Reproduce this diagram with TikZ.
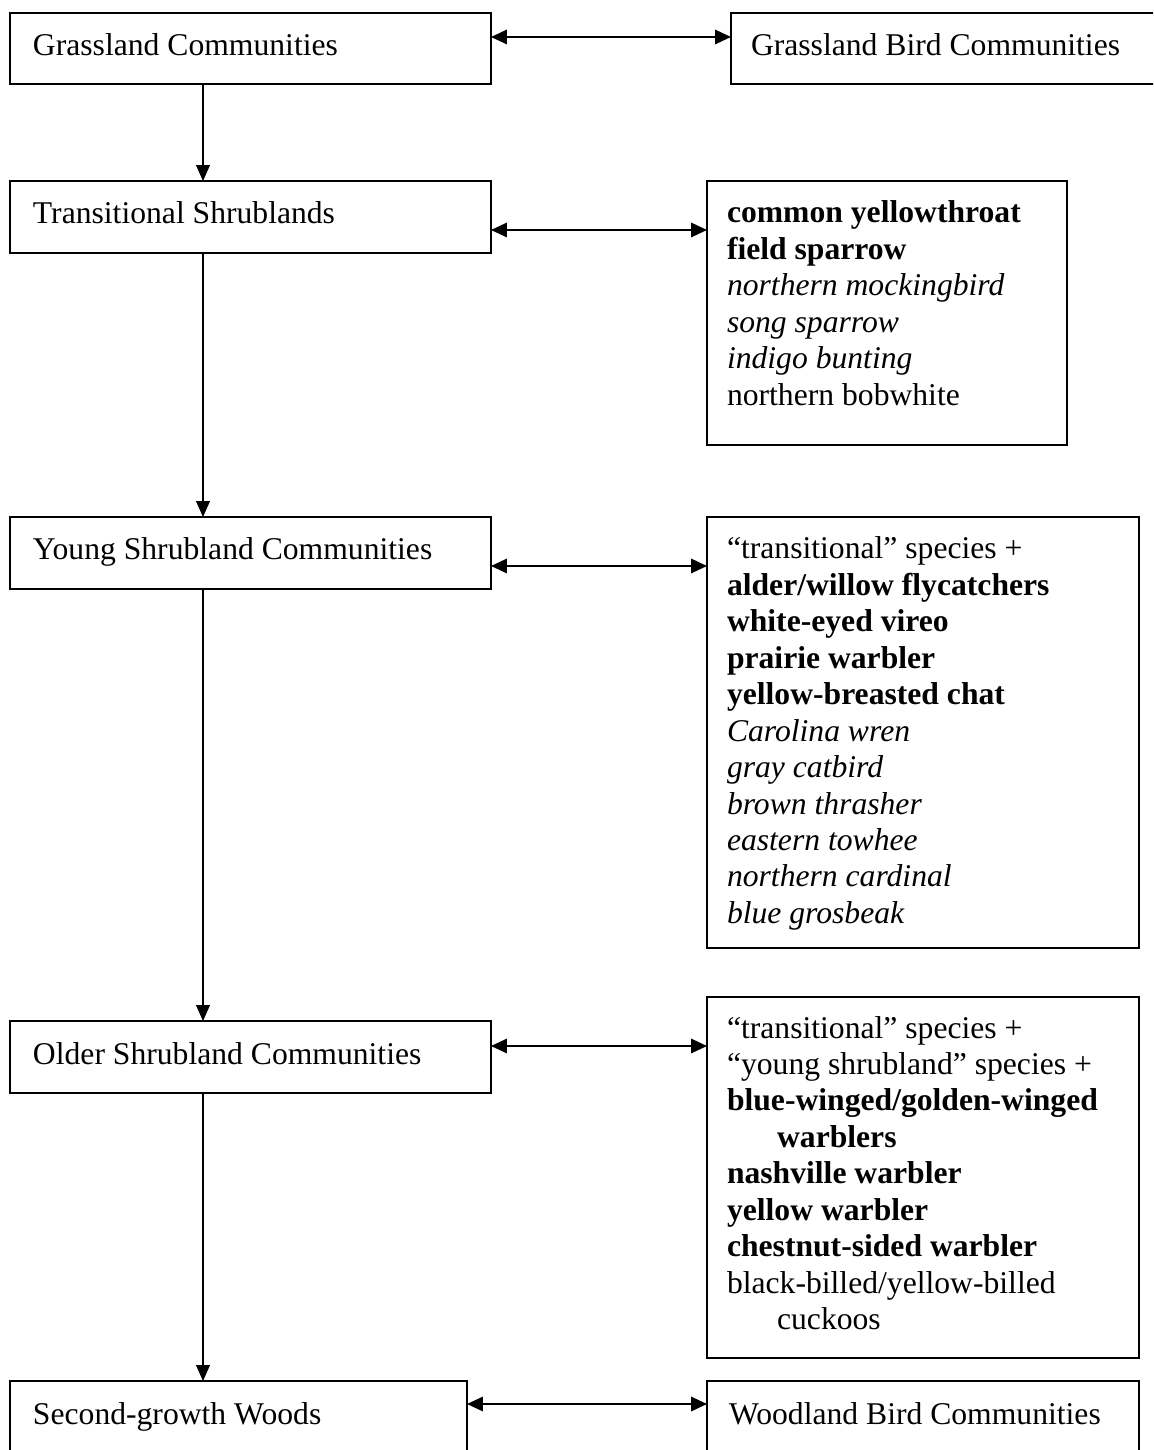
\documentclass[tikz,border=0pt]{standalone}
\usepackage{fontspec}
\setmainfont{Liberation Serif}
\usetikzlibrary{arrows.meta,calc}
% a top-aligned block of lines, base at the first baseline
\newcommand\birdlist[1]{\parbox[t]{5in}{\raggedright\fontsize{12}{13.82}\selectfont #1}}
\newcommand\hang{\hspace*{19pt}}
\begin{document}
\begin{tikzpicture}[x=0.3793pt,y=-0.3793pt,
  box/.style={draw,line width=0.8pt,inner sep=0pt,outer sep=0pt,anchor=north west},
  lbl/.style={anchor=base west,inner sep=0pt,outer sep=0pt,font=\fontsize{12}{13.82}\selectfont},
  link/.style={{Triangle[length=6pt,width=5.4pt]}-{Triangle[length=6pt,width=5.4pt]},line width=0.8pt},
  flow/.style={-{Triangle[length=6pt,width=5.2pt]},line width=0.55pt}]
\useasboundingbox (0,0) rectangle (1153,1450);
\clip (0,0) rectangle (1153,1450);

% habitat stages (left column)
\node[box,minimum width=481*0.3793pt,minimum height=71*0.3793pt] (b1) at (10,13) {};
\node[box,minimum width=481*0.3793pt,minimum height=72*0.3793pt] (b3) at (10,181) {};
\node[box,minimum width=481*0.3793pt,minimum height=72*0.3793pt] (b5) at (10,517) {};
\node[box,minimum width=481*0.3793pt,minimum height=72*0.3793pt] (b7) at (10,1021) {};
\node[box,minimum width=457*0.3793pt,minimum height=100*0.3793pt] (b9) at (10,1381) {};

% bird communities (right column)
\node[box,minimum width=450*0.3793pt,minimum height=71*0.3793pt] (b2) at (731,13) {};
\node[box,minimum width=360*0.3793pt,minimum height=264*0.3793pt] (b4) at (707,181) {};
\node[box,minimum width=432*0.3793pt,minimum height=431*0.3793pt] (b6) at (707,517) {};
\node[box,minimum width=432*0.3793pt,minimum height=361*0.3793pt] (b8) at (707,997) {};
\node[box,minimum width=432*0.3793pt,minimum height=100*0.3793pt] (b10) at (707,1381) {};

% labels
\node[lbl] (t1) at ($(b1.north west)+(23,43)$) {Grassland Communities};
\node[lbl] (t3) at ($(b3.north west)+(23,43)$) {Transitional Shrublands};
\node[lbl] (t5) at ($(b5.north west)+(23,43)$) {Young Shrubland Communities};
\node[lbl] (t7) at ($(b7.north west)+(23,43)$) {Older Shrubland Communities};
\node[lbl] (t9) at ($(b9.north west)+(23,43)$) {Second-growth Woods};
\node[lbl] (t2) at ($(b2.north west)+(20,43)$) {Grassland Bird Communities};
\node[lbl] (t10) at ($(b10.north west)+(22,43)$) {Woodland Bird Communities};

\node[lbl] (t4) at ($(b4.north west)+(20,42)$) {\birdlist{%
  \textbf{common yellowthroat}\\
  \textbf{field sparrow}\\
  \textit{northern mockingbird}\\
  \textit{song sparrow}\\
  \textit{indigo bunting}\\
  northern bobwhite}};

\node[lbl] (t6) at ($(b6.north west)+(20,42)$) {\birdlist{%
  “transitional” species +\\
  \textbf{alder/willow flycatchers}\\
  \textbf{white-eyed vireo}\\
  \textbf{prairie warbler}\\
  \textbf{yellow-breasted chat}\\
  \textit{Carolina wren}\\
  \textit{gray catbird}\\
  \textit{brown thrasher}\\
  \textit{eastern towhee}\\
  \textit{northern cardinal}\\
  \textit{blue grosbeak}}};

\node[lbl] (t8) at ($(b8.north west)+(20,41)$) {\birdlist{%
  “transitional” species +\\
  “young shrubland” species +\\
  \textbf{blue-winged/golden-winged}\\
  \hang\textbf{warblers}\\
  \textbf{nashville warbler}\\
  \textbf{yellow warbler}\\
  \textbf{chestnut-sided warbler}\\
  black-billed/yellow-billed\\
  \hang cuckoos}};

% two-way links between stage and bird community
\coordinate (r1) at ($(b1.north east)+(0,24)$);
\coordinate (r2) at ($(b3.north east)+(0,49)$);
\coordinate (r3) at ($(b5.north east)+(0,49)$);
\coordinate (r4) at ($(b7.north east)+(0,25)$);
\coordinate (r5) at ($(b9.north east)+(0,23)$);
\draw[link] (r1) -- (r1 -| b2.west);
\draw[link] (r2) -- (r2 -| b4.west);
\draw[link] (r3) -- (r3 -| b6.west);
\draw[link] (r4) -- (r4 -| b8.west);
\draw[link] (r5) -- (r5 -| b10.west);

% succession down the left column
\coordinate (s1) at ($(b1.south west)+(193,0)$);
\coordinate (s3) at ($(b3.south west)+(193,0)$);
\coordinate (s5) at ($(b5.south west)+(193,0)$);
\coordinate (s7) at ($(b7.south west)+(193,0)$);
\draw[flow] (s1) -- (s1 |- b3.north);
\draw[flow] (s3) -- (s3 |- b5.north);
\draw[flow] (s5) -- (s5 |- b7.north);
\draw[flow] (s7) -- (s7 |- b9.north);
\end{tikzpicture}
\end{document}
